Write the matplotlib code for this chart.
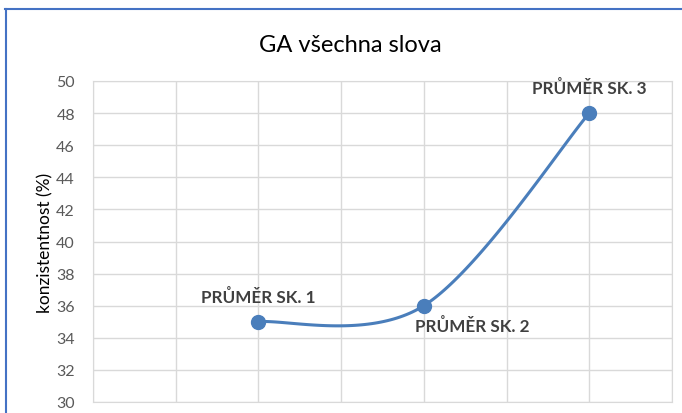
import numpy as np
import matplotlib.pyplot as plt
from matplotlib.lines import Line2D

# data
x_pos = [2, 4, 6]
values = [35, 36, 48]
labels = ['PRŮMĚR SK. 1', 'PRŮMĚR SK. 2', 'PRŮMĚR SK. 3']
label_offsets = [(0, 25), (48, -20), (0, 26)]  # pixels
y_ticks = list(range(30, 51, 2))

blue = '#4a7ebb'


def excel_smooth(xs, ys, n=60):  # bezier smoothing like Excel's smoothed line
    xs = np.asarray(xs, float)
    ys = np.asarray(ys, float)
    px, py = [], []
    t = np.linspace(0, 1, n)
    for i in range(len(xs) - 1):
        i0 = max(i - 1, 0)
        i3 = min(i + 2, len(xs) - 1)
        c1x = xs[i] + (xs[i + 1] - xs[i0]) / 6
        c1y = ys[i] + (ys[i + 1] - ys[i0]) / 6
        c2x = xs[i + 1] - (xs[i3] - xs[i]) / 6
        c2y = ys[i + 1] - (ys[i3] - ys[i]) / 6
        bx = (1 - t) ** 3 * xs[i] + 3 * (1 - t) ** 2 * t * c1x + 3 * (1 - t) * t ** 2 * c2x + t ** 3 * xs[i + 1]
        by = (1 - t) ** 3 * ys[i] + 3 * (1 - t) ** 2 * t * c1y + 3 * (1 - t) * t ** 2 * c2y + t ** 3 * ys[i + 1]
        px.extend(bx)
        py.extend(by)
    return np.array(px), np.array(py)


plt.rcParams['font.family'] = ['Lato', 'DejaVu Sans']

fig = plt.figure(figsize=(6.82, 4.14), dpi=100)
ax = fig.add_axes([93 / 682, 11 / 414, (672 - 93) / 682, (403 - 82) / 414])

sx, sy = excel_smooth(x_pos, values)
ax.plot(sx, sy, color=blue, lw=2.2, zorder=3, solid_capstyle='round')
ax.plot(x_pos, values, 'o', color=blue, ms=10, zorder=4)

for xp, v, lab, off in zip(x_pos, values, labels, label_offsets):
    ax.annotate(lab, (xp, v), xytext=off, textcoords='offset pixels',
                ha='center', va='center', fontsize=12.3, fontweight='bold',
                color='#404040')

ax.set_xlim(0, 7)
ax.set_ylim(30, 50)
ax.set_yticks(y_ticks)
ax.set_xticks(range(0, 8))
ax.set_xticklabels([])
ax.tick_params(axis='both', length=0, colors='#595959', labelsize=11.5)
ax.tick_params(axis='y', pad=13)
ax.grid(True, color='#d9d9d9', lw=1)
for s in ax.spines.values():
    s.set_color('#d9d9d9')
ax.set_ylabel('konzistentnost (%)', fontsize=12.5, color='#000000', labelpad=2)

fig.text(350 / 682, 1 - 45 / 414, 'GA všechna slova', ha='center', va='center',
         fontsize=17, color='#000000')

# outer frame (partially cropped)
fig.add_artist(Line2D([5 / 682, 1], [1 - 10 / 414, 1 - 10 / 414], color='#4472c4', lw=1.5))
fig.add_artist(Line2D([6 / 682, 6 / 682], [0, 1 - 10 / 414], color='#4472c4', lw=1.5))

fig.savefig('out.png', dpi=100)
